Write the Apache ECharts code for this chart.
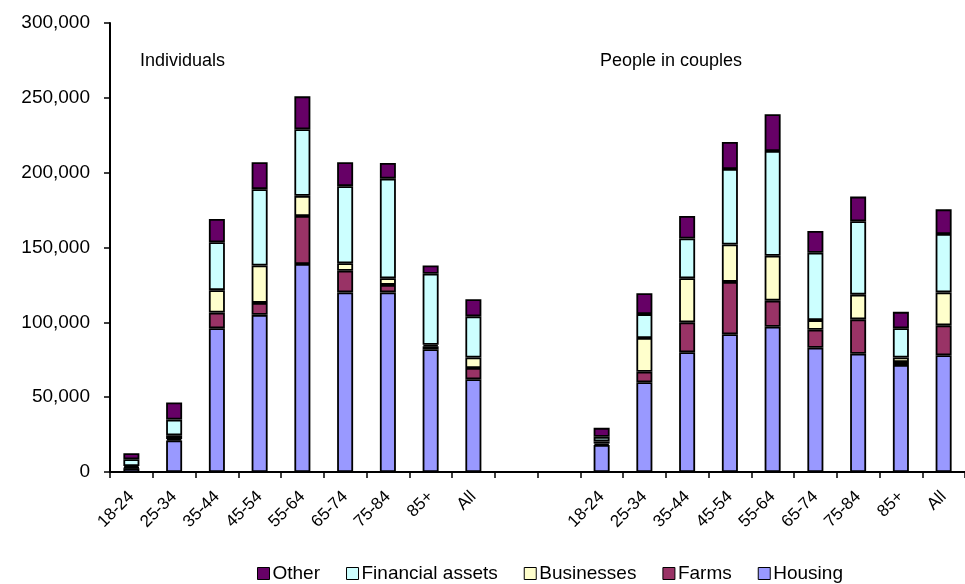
<!DOCTYPE html>
<html>
<head>
<meta charset="utf-8">
<script src="https://cdn.jsdelivr.net/npm/echarts@6/dist/echarts.min.js"></script>
<style>
  html, body { margin: 0; padding: 0; background: #fff; }
  #chart { width: 965px; height: 584px; }
</style>
</head>
<body>
<div id="chart"></div>
<script>
// Age bands, shown once for individuals and once for people in couples
const ageBands = ['18-24', '25-34', '35-44', '45-54', '55-64', '65-74', '75-84', '85+', 'All'];
const spacerCats = ['', ' '];

// Individuals – wealth components
const housingInd   = [2500, 21000, 96000, 105000, 139000, 120000, 120000, 82000, 62000];
const farmsInd     = [500, 1000, 10500, 8000, 32000, 14500, 5000, 2000, 7500];
const businessInd  = [1000, 2500, 15000, 25000, 13500, 5000, 4500, 1000, 7000];
const financialInd = [4500, 10500, 32000, 51000, 44500, 51500, 66500, 47500, 27500];
const otherInd     = [4000, 11500, 15500, 18000, 22000, 16000, 10500, 5500, 11500];

// People in couples – wealth components
const housingCpl   = [18000, 60000, 80000, 92000, 97000, 83000, 79000, 71500, 78000];
const farmsCpl     = [1000, 7000, 20000, 35000, 17500, 12000, 23000, 2000, 20000];
const businessCpl  = [1500, 22500, 29500, 25000, 30000, 6500, 16500, 3000, 22000];
const financialCpl = [3000, 16000, 26500, 50500, 70000, 45000, 49000, 19500, 39000];
const otherCpl     = [6000, 14000, 15000, 18000, 24500, 14500, 16500, 11000, 16500];

const yTicks = [0, 50000, 100000, 150000, 200000, 250000, 300000];
const panelTitles = ['Individuals', 'People in couples'];

const FONT = "'Liberation Sans', Arial, Helvetica, sans-serif";
const categories = ageBands.concat(spacerCats, ageBands);
const join = (a, b) => a.concat([null, null], b);

const seriesDefs = [
  { name: 'Housing',          color: '#9999FF', data: join(housingInd, housingCpl) },
  { name: 'Farms',            color: '#993366', data: join(farmsInd, farmsCpl) },
  { name: 'Businesses',       color: '#FFFFCC', data: join(businessInd, businessCpl) },
  { name: 'Financial assets', color: '#CCFFFF', data: join(financialInd, financialCpl) },
  { name: 'Other',            color: '#660066', data: join(otherInd, otherCpl) }
];

const chart = echarts.init(document.getElementById('chart'), null, { renderer: 'canvas' });

chart.setOption({
  animation: false,
  backgroundColor: '#ffffff',
  textStyle: { fontFamily: FONT, color: '#000' },
  grid: { left: 110, right: -11, top: 23, bottom: 112, containLabel: false },
  graphic: [
    { type: 'text', left: 140, top: 52, style: { text: panelTitles[0], font: '18px ' + FONT, fill: '#000' } },
    { type: 'text', left: 600, top: 52, style: { text: panelTitles[1], font: '18px ' + FONT, fill: '#000' } }
  ],
  legend: {
    top: 559,
    left: 252,
    padding: 5,
    itemWidth: 12,
    itemHeight: 12,
    itemGap: 26,
    icon: 'rect',
    data: ['Other', 'Financial assets', 'Businesses', 'Farms', 'Housing'],
    textStyle: { fontFamily: FONT, fontSize: 19, color: '#000', padding: [0, 0, 0, -2] },
    itemStyle: { borderColor: '#000', borderWidth: 1 }
  },
  xAxis: {
    type: 'category',
    data: categories,
    axisLine: { lineStyle: { color: '#000', width: 2 } },
    axisTick: { show: true, length: 6, lineStyle: { color: '#000', width: 1.5 } },
    axisLabel: {
      interval: 0,
      rotate: 45,
      margin: 22,
      fontFamily: FONT,
      fontSize: 17,
      color: '#000'
    },
    splitLine: { show: false }
  },
  yAxis: {
    type: 'value',
    min: yTicks[0],
    max: yTicks[yTicks.length - 1],
    interval: yTicks[1] - yTicks[0],
    axisLine: { show: true, lineStyle: { color: '#000', width: 2 } },
    axisTick: { show: true, length: 6, lineStyle: { color: '#000', width: 1.5 } },
    axisLabel: {
      margin: 20,
      fontFamily: FONT,
      fontSize: 19,
      color: '#000',
      formatter: v => v.toLocaleString('en-US')
    },
    splitLine: { show: false }
  },
  series: seriesDefs.map(s => ({
    name: s.name,
    type: 'bar',
    stack: 'wealth',
    barWidth: 16,
    data: s.data,
    itemStyle: { color: s.color, borderColor: '#000', borderWidth: 1.8 },
    emphasis: { disabled: true }
  }))
});
</script>
</body>
</html>
